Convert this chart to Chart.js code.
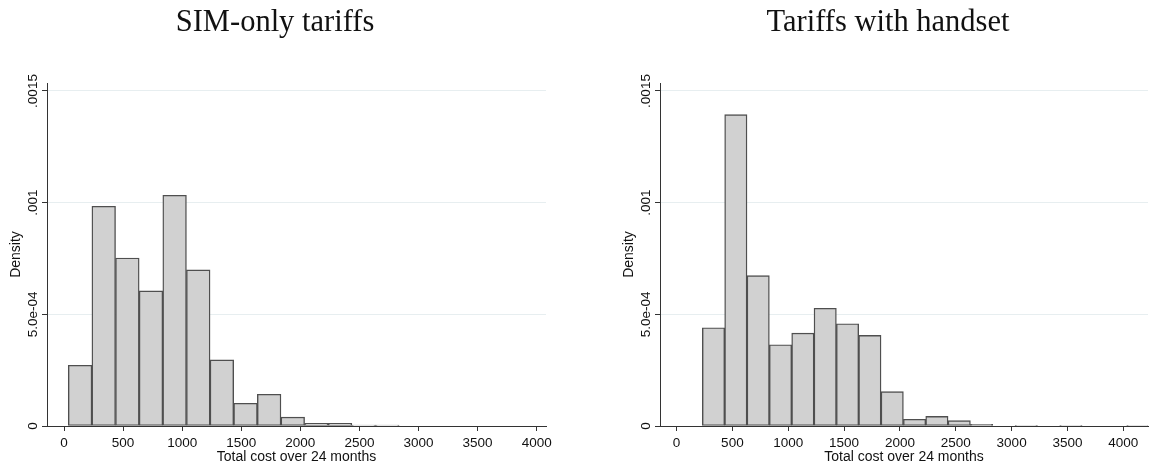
<!DOCTYPE html>
<html>
<head>
<meta charset="utf-8">
<script src="https://cdn.jsdelivr.net/npm/chart.js@4.4.1/dist/chart.umd.min.js"></script>
<style>
  html, body { margin: 0; padding: 0; background: #ffffff; }
  body { width: 1153px; height: 470px; position: relative; overflow: hidden; }
  canvas { position: absolute; top: 0; }
  #simChart { left: 0; }
  #handsetChart { left: 613px; }
</style>
</head>
<body>
<canvas id="simChart" width="580" height="470"></canvas>
<canvas id="handsetChart" width="540" height="470"></canvas>
<script>
// Panel titles and axis titles
const simTitle = 'SIM-only tariffs';
const handsetTitle = 'Tariffs with handset';
const xAxisTitle = 'Total cost over 24 months';
const yAxisTitle = 'Density';

// Axis ticks
const xTickValues = [0, 500, 1000, 1500, 2000, 2500, 3000, 3500, 4000];
const yTickValues = [0, 0.0005, 0.001, 0.0015];
const yTickLabels = ['0', '5.0e-04', '.001', '.0015'];

// SIM-only tariffs: histogram bin midpoints (bin width 200) and densities
const simBinMids = [136, 336, 536, 736, 936, 1136, 1336, 1536, 1736, 1936, 2136, 2336, 2536, 2736];
const simDensity = [0.000272, 0.000984, 0.000752, 0.000605, 0.001033, 0.000699, 0.000296,
                    0.000102, 0.000142, 0.000040, 0.000012, 0.000012, 0.000004, 0.000004];

// Tariffs with handset: histogram bin midpoints (bin width 200) and densities
const handsetBinMids = [331, 531, 731, 931, 1131, 1331, 1531, 1731, 1931, 2131,
                        2331, 2531, 2731, 2931, 3131, 3331, 3531, 3731, 3931, 4131];
const handsetDensity = [0.000440, 0.001394, 0.000673, 0.000364, 0.000416, 0.000527, 0.000458,
                        0.000406, 0.000154, 0.000030, 0.000043, 0.000024, 0.000007, 0,
                        0.000003, 0, 0.000003, 0, 0, 0.000003];

const textColor = '#111111';
const axisColor = '#333333';
const sansFamily = '"Liberation Sans", Arial, sans-serif';

// Draws the panel title and the rotated y tick labels
const histogramText = {
  id: 'histogramText',
  afterDraw(chart, args, opts) {
    const { ctx, chartArea, scales } = chart;
    const yScale = scales.y;
    ctx.save();
    ctx.fillStyle = textColor;
    ctx.font = '30.5px "Liberation Serif", "Times New Roman", serif';
    ctx.textAlign = 'center';
    ctx.textBaseline = 'alphabetic';
    ctx.fillText(opts.title, chartArea.left + 228, 31);

    ctx.font = '13.5px ' + sansFamily;
    yTickValues.forEach((v, i) => {
      ctx.save();
      ctx.translate(chartArea.left - 14, yScale.getPixelForValue(v));
      ctx.rotate(-Math.PI / 2);
      ctx.textAlign = 'center';
      ctx.textBaseline = 'middle';
      ctx.fillText(yTickLabels[i], 0, 0);
      ctx.restore();
    });
    ctx.restore();
  }
};

function makeHistogram(canvasId, mids, density, xMin, xMax, padRight, title) {
  return new Chart(document.getElementById(canvasId), {
    type: 'bar',
    data: {
      datasets: [{
        data: mids.map((x, i) => ({ x: x, y: density[i] })),
        backgroundColor: '#d1d1d1',
        borderColor: '#4f4f4f',
        borderWidth: 1.4,
        borderSkipped: false,
        barPercentage: 1,
        categoryPercentage: 1
      }]
    },
    options: {
      responsive: false,
      animation: false,
      devicePixelRatio: 1,
      layout: { padding: { top: 83, right: padRight, left: 0, bottom: 0 } },
      plugins: {
        legend: { display: false },
        tooltip: { enabled: false },
        title: { display: false },
        histogramText: { title: title }
      },
      scales: {
        x: {
          type: 'linear',
          min: xMin,
          max: xMax,
          offset: false,
          afterBuildTicks: s => { s.ticks = xTickValues.map(v => ({ value: v })); },
          afterFit: s => { s.height = 44; },
          grid: { offset: false, drawOnChartArea: false, drawTicks: true, tickLength: 5, tickColor: axisColor, color: axisColor },
          border: { display: true, color: axisColor, width: 1 },
          ticks: {
            font: { family: sansFamily, size: 13.5 },
            color: textColor,
            padding: 4,
            maxRotation: 0,
            autoSkip: false,
            callback: v => String(v)
          },
          title: {
            display: true,
            text: xAxisTitle,
            font: { family: sansFamily, size: 14 },
            color: textColor,
            padding: { top: 0, bottom: 4 }
          }
        },
        y: {
          type: 'linear',
          min: 0,
          max: 0.0015358,
          afterBuildTicks: s => { s.ticks = yTickValues.map(v => ({ value: v })); },
          afterFit: s => { s.width = 47; },
          grid: {
            color: c => (c.tick && c.tick.value === 0) ? 'rgba(0,0,0,0)' : '#e7eef0',
            tickColor: axisColor,
            tickLength: 5,
            drawTicks: true,
            lineWidth: 1
          },
          border: { display: true, color: axisColor, width: 1 },
          ticks: { display: false },
          title: {
            display: true,
            text: yAxisTitle,
            font: { family: sansFamily, size: 14 },
            color: textColor,
            padding: { top: 7.6, bottom: 0 }
          }
        }
      }
    },
    plugins: [histogramText]
  });
}

makeHistogram('simChart', simBinMids, simDensity, -144, 4079, 34, simTitle);
makeHistogram('handsetChart', handsetBinMids, handsetDensity, -148, 4221, 5, handsetTitle);
</script>
</body>
</html>
